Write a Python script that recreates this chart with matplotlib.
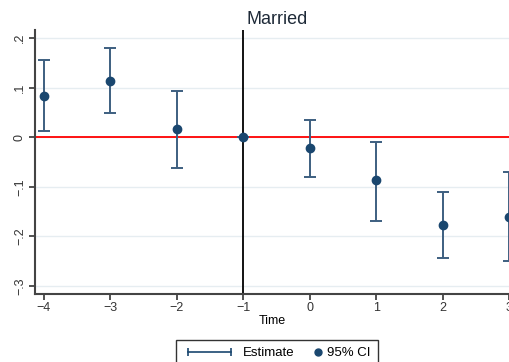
import matplotlib
matplotlib.use("Agg")
import matplotlib.pyplot as plt
from matplotlib.lines import Line2D
from matplotlib.legend_handler import HandlerLine2D

plt.rcParams['font.family'] = ['Liberation Sans', 'DejaVu Sans']

# event-time coefficients and 95% bounds
time = [-4, -3, -2, -1, 0, 1, 2, 3]
estimate = [0.083, 0.114, 0.016, 0.0, -0.022, -0.087, -0.176, -0.160]
ci_low = [0.012, 0.049, -0.063, 0.0, -0.081, -0.168, -0.243, -0.249]
ci_high = [0.156, 0.180, 0.093, 0.0, 0.034, -0.010, -0.110, -0.071]

yticks = [-0.3, -0.2, -0.1, 0, 0.1, 0.2]
yticklabels = ["-.3", "-.2", "-.1", "0", ".1", ".2"]

navy = "#1a476f"


class RightDotHandler(HandlerLine2D):
    # single marker drawn at the right end of the handle box
    def get_xdata(self, legend, xdescent, ydescent, width, height, fontsize):
        c = width - xdescent - 0.1 * fontsize
        return [c - 1, c + 1], [c]


fig = plt.figure(figsize=(5.1, 3.62), dpi=100)
ax = fig.add_axes([35 / 510, 1 - 294 / 362, 1 - 35 / 510, (294 - 30) / 362])

for y in yticks:
    ax.axhline(y, color="#e6edf1", lw=1, zorder=0)
ax.axhline(0, color="red", lw=1.3, zorder=1)
ax.axvline(-1, color="black", lw=1.3, zorder=1)

yerr = [[e - lo for e, lo in zip(estimate, ci_low)],
        [hi - e for e, hi in zip(estimate, ci_high)]]
ax.errorbar(time, estimate, yerr=yerr, fmt="none", ecolor="#3d5f80",
            elinewidth=1.4, capsize=4, capthick=1.4, zorder=2)
ax.plot(time, estimate, "o", color=navy, ms=6, zorder=3, clip_on=False)

ax.set_xlim(-4.135, 3.015)
ax.set_ylim(-0.316, 0.216)
ax.set_xticks(time)
ax.set_xticklabels(["\u22124", "\u22123", "\u22122", "\u22121", "0", "1", "2", "3"])
ax.set_yticks(yticks)
ax.set_yticklabels([t.replace("-", "\u2212") for t in yticklabels],
                   rotation=90, va="center")
ax.tick_params(axis="both", labelsize=9, colors="#333333", length=4, width=1.2)
ax.tick_params(axis="x", pad=1.5)
ax.tick_params(axis="y", pad=2.5)
for side in ["top", "right"]:
    ax.spines[side].set_visible(False)
for side in ["left", "bottom"]:
    ax.spines[side].set_color("#444444")
    ax.spines[side].set_linewidth(1.5)

ax.set_title("Married", fontsize=13, color="#1e2a38", pad=4, x=0.51)
ax.set_xlabel("Time", fontsize=9, labelpad=1)

est_handle = Line2D([], [], color=navy, lw=1.2, marker="|", ms=6, mew=1.2)
ci_handle = Line2D([], [], color=navy, lw=0, marker="o", ms=5)
leg = fig.legend([est_handle, ci_handle], ["Estimate", "95% CI"],
                 loc="center", bbox_to_anchor=(277 / 510, 1 - 353 / 362),
                 ncol=2, fontsize=9.5, frameon=True, fancybox=False,
                 edgecolor="black", handlelength=3.87, columnspacing=-2.0,
                 handletextpad=0.6, borderpad=0.55,
                 handler_map={est_handle: HandlerLine2D(numpoints=2),
                              ci_handle: RightDotHandler()})
leg.get_frame().set_linewidth(1.0)

fig.savefig("out.png", dpi=100)
